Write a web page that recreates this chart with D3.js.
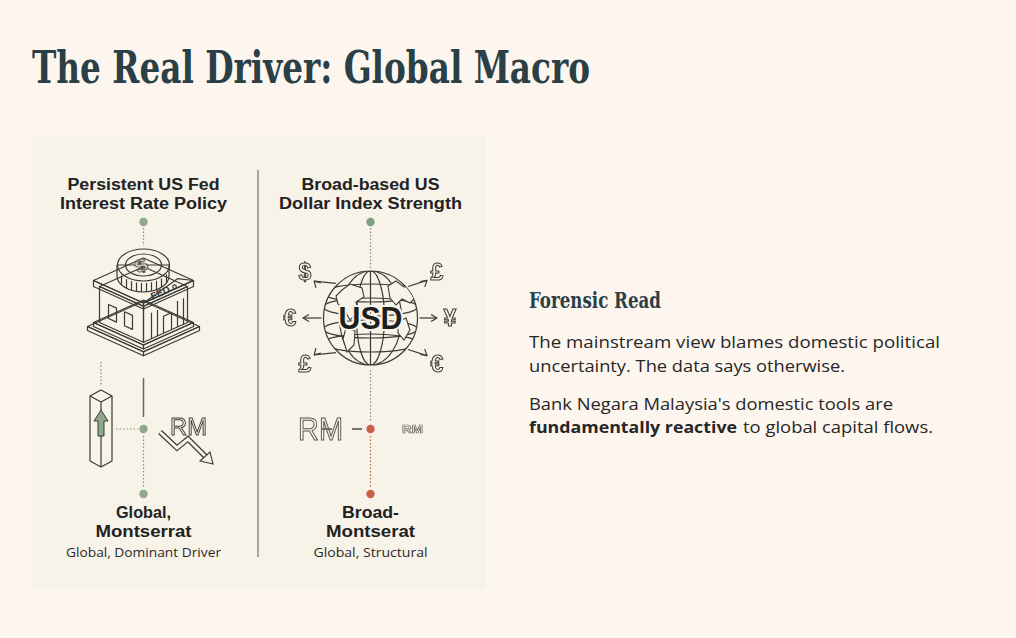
<html>
<head>
<meta charset="utf-8">
<title>The Real Driver: Global Macro</title>
<script src="https://d3js.org/d3.v7.min.js"></script>
<style>
  body { margin: 0; background-color: #fdf6ef; }
  svg { display: block; }
  .serif { font-family: "DejaVu Serif", "Liberation Serif", serif; font-weight: bold; fill: #2b3f47; font-stretch: condensed; }
  .sans { font-family: "Open Sans", "Noto Sans", sans-serif; }
  .lab { font-family: "Liberation Sans", Arial, sans-serif; }
  .ink { stroke: #3a3a36; fill: none; stroke-width: 1.2; stroke-linejoin: round; }
  .outline { filter: url(#flat); }
</style>
</head>
<body>
<div id="chart"></div>
<script>
// texts
var titleText = "The Real Driver: Global Macro";
var columnHeads = [["Persistent US Fed", "Interest Rate Policy"], ["Broad-based US", "Dollar Index Strength"]];
var columnLabels = [["Global,", "Montserrat"], ["Broad-", "Montserat"]];
var columnNotes = ["Global, Dominant Driver", "Global, Structural"];
var currencySymbols = ["$", "£", "€", "¥", "£", "€"];
var sideHeading = "Forensic Read";
var sideLines = [
  [{t: "The mainstream view blames domestic political", b: false}],
  [{t: "uncertainty. The data says otherwise.", b: false}],
  [{t: "Bank Negara Malaysia's domestic tools are", b: false}],
  [{t: "fundamentally reactive", b: true}, {t: "to global capital flows.", b: false}]
];

var width = 1016, height = 638;
var cardBg = '#f7f3e9', green = '#8fa88a', red = '#c8604a', ink = '#3a3a36';

var svg = d3.select('#chart').append('svg')
  .attr('width', width).attr('height', height);

// filter that renders outlined glyphs off-screen (plain grey antialiasing)
svg.append('defs').append('filter').attr('id', 'flat')
  .append('feOffset').attr('dx', 0).attr('dy', 0);

// title
svg.append('text').attr('class', 'serif')
  .attr('x', 32).attr('y', 83)
  .attr('font-size', 44)
  .attr('textLength', 558).attr('lengthAdjust', 'spacingAndGlyphs')
  .text(titleText);

// card
var card = svg.append('g');
card.append('rect')
  .attr('x', 32).attr('y', 137).attr('width', 454).attr('height', 453)
  .attr('fill', cardBg);

var col = d3.scaleBand().domain([0, 1]).range([32, 486]);
var cx = function (i) { return col(i) + col.bandwidth() / 2 - 2; };

// divider
card.append('line')
  .attr('x1', 258).attr('x2', 258).attr('y1', 170).attr('y2', 557)
  .attr('stroke', '#8c8a80').attr('stroke-width', 1.5);

var headWidths = [[152, 167], [138, 183]];
var labelWidths = [[55, 96], [57, 89]];
var noteWidths = [155, 114];

columnHeads.forEach(function (lines, i) {
  lines.forEach(function (l, j) {
    card.append('text').attr('class', 'lab')
      .attr('x', cx(i)).attr('y', 190 + j * 18.5)
      .attr('text-anchor', 'middle')
      .attr('font-size', 16).attr('font-weight', 'bold').attr('fill', '#222')
      .attr('textLength', headWidths[i][j]).attr('lengthAdjust', 'spacingAndGlyphs')
      .text(l);
  });
  columnLabels[i].forEach(function (l, j) {
    card.append('text').attr('class', 'lab')
      .attr('x', cx(i)).attr('y', 518 + j * 19)
      .attr('text-anchor', 'middle')
      .attr('font-size', 16).attr('font-weight', 'bold').attr('fill', '#222')
      .attr('textLength', labelWidths[i][j]).attr('lengthAdjust', 'spacingAndGlyphs')
      .text(l);
  });
  card.append('text').attr('class', 'sans')
    .attr('x', cx(i)).attr('y', 557)
    .attr('text-anchor', 'middle')
    .attr('font-size', 13.5).attr('fill', '#2a2a2a')
    .attr('textLength', noteWidths[i]).attr('lengthAdjust', 'spacingAndGlyphs')
    .text(columnNotes[i]);
});

function dotted(g, x1, y1, x2, y2, color) {
  g.append('line').attr('x1', x1).attr('y1', y1).attr('x2', x2).attr('y2', y2)
    .attr('stroke', color || '#8a8a82').attr('stroke-width', 1.2)
    .attr('stroke-dasharray', '1.5,2');
}
function dot(g, x, y, color) {
  g.append('circle').attr('cx', x).attr('cy', y).attr('r', 4.2).attr('fill', color);
}
function outlined(g, d, w) {
  g.append('path').attr('d', d).attr('fill', 'none').attr('stroke', ink)
    .attr('stroke-width', w + 2.4).attr('stroke-linejoin', 'miter');
  g.append('path').attr('d', d).attr('fill', 'none').attr('stroke', cardBg)
    .attr('stroke-width', w).attr('stroke-linejoin', 'miter');
}
var poly = function (pts) { return 'M' + pts.map(function (p) { return p.join(','); }).join('L') + 'Z'; };

// ---- left column: Fed ----
var L = svg.append('g');
var lx = cx(0);
dot(L, lx, 222, green);
dotted(L, lx, 228, lx, 246);

// isometric helper: footprint u,v, layer top y0
var K = 0.45;
function P(u, v, y0) { return [lx + u - v, y0 + K * (u + v)]; }
function box(g, a, b, y0, h) {
  var top = [P(a, a, y0), P(b, a, y0), P(b, b, y0), P(a, b, y0)];
  var down = function (p) { return [p[0], p[1] + h]; };
  g.append('path').attr('class', 'ink').attr('fill', cardBg)
    .attr('d', poly([P(a, b, y0), P(b, b, y0), down(P(b, b, y0)), down(P(a, b, y0))]));
  g.append('path').attr('class', 'ink').attr('fill', cardBg)
    .attr('d', poly([P(b, b, y0), P(b, a, y0), down(P(b, a, y0)), down(P(b, b, y0))]));
  g.append('path').attr('class', 'ink').attr('fill', cardBg).attr('d', poly(top));
}
// base steps
box(L, -3, 53, 304, 4);
box(L, 0, 50, 300, 4);
// walls
box(L, 3, 47, 264, 36);
// columns on right face
[7, 13, 33, 39].forEach(function (v) {
  var p = P(47, v, 264);
  L.append('line').attr('class', 'ink').attr('x1', p[0]).attr('x2', p[0])
    .attr('y1', p[1] + 10).attr('y2', p[1] + 36);
});
// door
var d1 = P(47, 27, 264), d2 = P(47, 19, 264);
L.append('path').attr('class', 'ink')
  .attr('d', 'M' + d1[0] + ',' + (d1[1] + 36) + 'L' + d1[0] + ',' + (d1[1] + 19) +
    'L' + d2[0] + ',' + (d2[1] + 19) + 'L' + d2[0] + ',' + (d2[1] + 36));
// windows on left face
[[12, 20], [28, 36]].forEach(function (w) {
  var a = P(w[0], 47, 264), b = P(w[1], 47, 264);
  L.append('path').attr('class', 'ink').attr('stroke-width', 0.9)
    .attr('d', poly([[a[0], a[1] + 14], [b[0], b[1] + 14], [b[0], b[1] + 28], [a[0], a[1] + 28]]));
});
// roof
box(L, 0, 50, 258, 6);
// pediment over right face
var pf = P(50, 50, 258), pr = P(50, 0, 258), pa = P(50, 16, 258);
L.append('path').attr('class', 'ink').attr('fill', cardBg)
  .attr('d', poly([pf, [pa[0], pa[1] - 9], pr]));
L.append('circle').attr('class', 'ink').attr('cx', pa[0] - 3).attr('cy', pa[1] - 1).attr('r', 1.8);
L.append('text').attr('class', 'lab')
  .attr('transform', 'translate(' + (lx + 9) + ',' + (pf[1] - 3) + ') rotate(-24)')
  .attr('font-size', 10).attr('font-weight', 'bold').attr('fill', ink)
  .text('FED');
// coin
var coin = L.append('g');
coin.append('path').attr('class', 'ink').attr('fill', cardBg)
  .attr('d', 'M117,265 L117,276 A26,16 0 0 0 169,276 L169,265 Z');
d3.range(-22, 24, 5).forEach(function (dx) {
  var y = 276 + 16 * Math.sqrt(Math.max(0, 1 - (dx * dx) / (26 * 26)));
  coin.append('line').attr('class', 'ink').attr('stroke-width', 0.9)
    .attr('x1', lx + dx).attr('x2', lx + dx).attr('y1', y - 9).attr('y2', y);
});
coin.append('ellipse').attr('class', 'ink').attr('fill', cardBg)
  .attr('cx', lx).attr('cy', 265).attr('rx', 26).attr('ry', 16);
coin.append('ellipse').attr('class', 'ink')
  .attr('cx', lx).attr('cy', 265).attr('rx', 18).attr('ry', 11);
coin.append('text').attr('class', 'lab outline')
  .attr('transform', 'translate(' + lx + ',271) rotate(-25) scale(1.1,0.8)')
  .attr('text-anchor', 'middle').attr('font-size', 20).attr('font-weight', 'bold')
  .attr('fill', cardBg).attr('stroke', ink).attr('stroke-width', 1)
  .text('$');

// pillar with arrow
dotted(L, 101, 362, 101, 385);
L.append('path').attr('class', 'ink').attr('fill', cardBg)
  .attr('d', poly([[90, 396], [101, 390], [112, 396], [112, 461], [101, 467], [90, 461]]));
L.append('path').attr('class', 'ink').attr('d', 'M90,396L101,402L112,396M101,402L101,410');
L.append('path').attr('fill', green).attr('stroke', ink).attr('stroke-width', 1)
  .attr('d', poly([[101, 410], [108, 421], [104, 421], [104, 436], [98, 436], [98, 421], [94, 421]]));
L.append('line').attr('class', 'ink').attr('x1', 101).attr('x2', 101).attr('y1', 436).attr('y2', 467);
L.append('line').attr('stroke', '#666').attr('stroke-width', 1.5)
  .attr('x1', lx).attr('x2', lx).attr('y1', 378).attr('y2', 417);
dotted(L, 116, 429, 138, 429);
dot(L, lx, 429, green);
dotted(L, lx, 436, lx, 488);
dot(L, lx, 494, green);
// RM with zigzag down arrow
L.append('text').attr('class', 'lab outline')
  .attr('x', 170).attr('y', 435).attr('font-size', 24)
  .attr('fill', cardBg).attr('stroke', ink).attr('stroke-width', 0.9)
  .attr('textLength', 37).attr('lengthAdjust', 'spacingAndGlyphs')
  .text('RM');
outlined(L, 'M160,432L177,448L188,439L206,457', 3);
L.append('path').attr('fill', cardBg).attr('stroke', ink).attr('stroke-width', 1.1)
  .attr('d', poly([[213, 464], [200, 461], [210, 452]]));

// ---- right column: USD globe ----
var R = svg.append('g');
var rx = cx(1), gy = 318, gr = 47;
dot(R, rx, 222, '#7f9f85');
dotted(R, rx, 228, rx, 270);
// arrows to currency symbols
var angles = [-135, -40, 180, 0, 135, 40];
var symPos = [[305, 272], [437, 272], [290, 318], [450, 318], [305, 364], [437, 364]];
currencySymbols.forEach(function (s, i) {
  var a = angles[i] * Math.PI / 180;
  var x1 = rx + Math.cos(a) * (gr + 2), y1 = gy + Math.sin(a) * (gr + 2);
  var x2 = symPos[i][0] - Math.cos(a) * 13, y2 = symPos[i][1] - Math.sin(a) * 13;
  R.append('line').attr('class', 'ink').attr('x1', x1).attr('y1', y1).attr('x2', x2).attr('y2', y2);
  var h = 6, w = 3.5, ux = Math.cos(a), uy = Math.sin(a);
  R.append('path').attr('class', 'ink')
    .attr('d', 'M' + (x2 - ux * h - uy * w) + ',' + (y2 - uy * h + ux * w) +
      'L' + x2 + ',' + y2 + 'L' + (x2 - ux * h + uy * w) + ',' + (y2 - uy * h - ux * w));
  R.append('text').attr('class', 'lab outline')
    .attr('x', symPos[i][0]).attr('y', symPos[i][1] + 8)
    .attr('text-anchor', 'middle').attr('font-size', 23).attr('font-weight', 'bold')
    .attr('fill', cardBg).attr('stroke', ink).attr('stroke-width', 1)
    .text(s);
});
// globe
R.append('circle').attr('class', 'ink').attr('fill', cardBg).attr('stroke-width', 1.5)
  .attr('cx', rx).attr('cy', gy).attr('r', gr);
var globe = R.append('g');
globe.append('clipPath').attr('id', 'gclip').append('circle')
  .attr('cx', rx).attr('cy', gy).attr('r', gr);
var gin = globe.append('g').attr('clip-path', 'url(#gclip)');
[14, 31].forEach(function (e) {
  gin.append('ellipse').attr('class', 'ink').attr('cx', rx).attr('cy', gy).attr('rx', e).attr('ry', gr);
});
gin.append('line').attr('class', 'ink').attr('x1', rx).attr('x2', rx).attr('y1', gy - gr).attr('y2', gy + gr);
[-34, -20, 20, 34].forEach(function (dy) {
  gin.append('ellipse').attr('class', 'ink').attr('cx', rx).attr('cy', gy + dy + (dy < 0 ? 9 : -9))
    .attr('rx', gr).attr('ry', 9);
});
// rough continents
var land = [
  'M342,290 L350,284 L362,288 L364,297 L356,302 L358,311 L350,320 L345,311 L338,304 L336,296 Z',
  'M388,286 L396,281 L404,287 L412,286 L416,297 L410,303 L402,299 L396,305 L390,298 Z',
  'M346,328 L355,331 L354,345 L347,352 L343,339 Z',
  'M398,322 L406,318 L410,330 L404,340 L398,333 Z'
];
land.forEach(function (d) {
  gin.append('path').attr('fill', cardBg).attr('stroke', ink).attr('stroke-width', 1.1).attr('d', d);
});
R.append('text').attr('class', 'lab')
  .attr('x', rx).attr('y', gy + 11).attr('text-anchor', 'middle')
  .attr('font-size', 31).attr('font-weight', 'bold').attr('fill', '#1e1e1c')
  .attr('stroke', cardBg).attr('stroke-width', 4).attr('paint-order', 'stroke')
  .attr('textLength', 64).attr('lengthAdjust', 'spacingAndGlyphs')
  .text('USD');
dotted(R, rx, 370, rx, 422);
// RM row
R.append('text').attr('class', 'lab outline')
  .attr('x', 298).attr('y', 440).attr('font-size', 31)
  .attr('fill', cardBg).attr('stroke', '#55554f').attr('stroke-width', 1)
  .attr('textLength', 45).attr('lengthAdjust', 'spacingAndGlyphs')
  .text('RM');
R.append('line').attr('stroke', '#66665f').attr('stroke-width', 1.8)
  .attr('x1', 322).attr('x2', 332).attr('y1', 429).attr('y2', 429);
R.append('line').attr('stroke', '#66665f').attr('stroke-width', 1.8)
  .attr('x1', 352).attr('x2', 362).attr('y1', 429).attr('y2', 429);
dot(R, rx, 429, red);
R.append('text').attr('class', 'lab outline')
  .attr('x', 402).attr('y', 433).attr('font-size', 11).attr('font-weight', 'bold')
  .attr('fill', cardBg).attr('stroke', '#6a6a64').attr('stroke-width', 0.7)
  .attr('textLength', 21).attr('lengthAdjust', 'spacingAndGlyphs')
  .text('RM');
dotted(R, rx, 436, rx, 488, red);
dot(R, rx, 494, red);

// ---- side text ----
svg.append('text').attr('class', 'serif')
  .attr('x', 529).attr('y', 308).attr('font-size', 22)
  .attr('textLength', 132).attr('lengthAdjust', 'spacingAndGlyphs')
  .text(sideHeading);

var lineY = [348, 372, 410, 433];
var lineWidths = [[411], [316], [364], [208, 190]];
var lineStarts = [[529], [529], [529], [529, 743]];
sideLines.forEach(function (parts, i) {
  parts.forEach(function (p, j) {
    svg.append('text').attr('class', 'sans')
      .attr('x', lineStarts[i][j]).attr('y', lineY[i])
      .attr('font-size', 16.5).attr('fill', '#262626')
      .attr('font-weight', p.b ? 'bold' : 'normal')
      .attr('textLength', lineWidths[i][j]).attr('lengthAdjust', 'spacingAndGlyphs')
      .text(p.t);
  });
});
</script>
</body>
</html>
